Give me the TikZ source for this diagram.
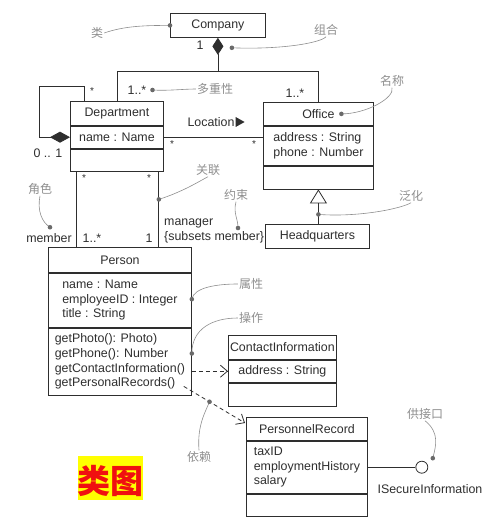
\documentclass[tikz,border=0pt]{standalone}
\usepackage{fontspec}
\setmainfont{Liberation Sans}
\newfontfamily\cjk{Noto Sans CJK SC}
\usetikzlibrary{arrows.meta,calc}
\definecolor{ink}{HTML}{2E2E2E}
\definecolor{notegray}{HTML}{8E8E8E}
\definecolor{dotgray}{HTML}{6A6A6A}
\definecolor{badgefill}{HTML}{FFFF00}
\definecolor{badgetext}{HTML}{F01010}

\begin{document}
\begin{tikzpicture}[
  x=1pt, y=-1pt,
  font=\fontsize{12.4}{14.8}\selectfont,
  cls/.style={draw=ink, line width=0.8pt, inner sep=1pt, text=ink, anchor=north west},
  head/.style={cls, align=center},
  compart/.style={cls, align=left},
  line/.style={draw=ink, line width=0.8pt},
  dep/.style={line, dash pattern=on 4pt off 3pt, -{Straight Barb[length=7pt, width=12pt]}},
  mult/.style={text=ink, inner sep=0pt},
  star/.style={mult, font=\fontsize{10}{10}\selectfont},
  note/.style={font=\cjk\fontsize{12}{12}\selectfont, text=notegray, inner sep=1pt},
  leader/.style={draw=notegray, line width=0.6pt},
  notedot/.style={fill=dotgray}
]
\useasboundingbox (0,0) rectangle (488,521);

% Classes
\node[head, minimum width=95pt, minimum height=24pt] (company) at (170,13) {Company};

\node[head, minimum width=93pt, minimum height=24pt] (dept) at (70,101) {Department};
\node[compart, minimum width=93pt, minimum height=22pt] (deptattr) at (dept.south west) {name : Name};
\node[compart, minimum width=93pt, minimum height=22pt] (deptops) at (deptattr.south west) {};

\node[head, minimum width=110pt, minimum height=23pt] (office) at (263,102) {Office};
\node[compart, minimum width=110pt, minimum height=39pt] (officeattr) at (office.south west) {address : String\\phone : Number};
\node[compart, minimum width=110pt, minimum height=23pt] (officeops) at (officeattr.south west) {};

\node[head, minimum width=104pt, minimum height=24pt] (hq) at (265,224) {Headquarters};

\node[head, minimum width=143pt, minimum height=25pt] (person) at (48,247) {Person};
\node[compart, minimum width=143pt, minimum height=54pt] (personattr) at (person.south west) {name : Name\\employeeID : Integer\\title : String};
\node[compart, minimum width=143pt, minimum height=67pt] (personops) at (personattr.south west) {getPhoto(): Photo)\\getPhone(): Number\\getContactInformation()\\getPersonalRecords()};

\node[head, minimum width=108pt, minimum height=24pt] (contact) at (228,335) {ContactInformation};
\node[compart, minimum width=108pt, minimum height=22pt] (contactattr) at (contact.south west) {address : String};
\node[compart, minimum width=108pt, minimum height=23pt] (contactops) at (contactattr.south west) {};

\node[head, minimum width=121pt, minimum height=23pt] (record) at (246,417) {PersonnelRecord};
\node[compart, minimum width=121pt, minimum height=52pt] (recordattr) at (record.south west) {taxID\\employmentHistory\\salary};
\node[compart, minimum width=121pt, minimum height=22pt] (recordops) at (recordattr.south west) {};

% Composition of the company
\coordinate (branch) at ($(company.south)+(0,34)$);
\draw[line, {Diamond[length=17pt, width=11pt]}-] (company.south) -- (branch);
\draw[line] (dept.north) |- (branch) -| (office.north);
\node[mult] (compone) at (200,45) {1};
\node[mult] (deptmany) at (137,90) {1..*};
\node[mult] (officemany) at (295,93) {1..*};

% Department owns its sub-departments
\coordinate (loopcorner) at ($(dept.north west)+(-31,-15)$);
\coordinate (looptop) at ($(dept.north west)+(14,0)$);
\draw[line, {Diamond[length=20pt, width=11pt]}-] (deptattr.west) -| (loopcorner) -| (looptop);
\node[star] (loopstar) at (92,91) {*};
\node[mult] (loopopt) at (48,153) {0 .. 1};

% Location
\draw[line] (deptattr.east) -- (deptattr.east -| office.west);
\node[mult] (location) at (211,122) {Location};
\fill[ink] ($(location.east)+(1,-5)$) -- ++(9,5) -- ++(-9,5) -- cycle;
\node[star] (locleft) at (172,144) {*};
\node[star] (locright) at (254,144) {*};

% Members and manager
\coordinate (membertop) at ($(deptops.south west)+(6,0)$);
\coordinate (managertop) at ($(deptops.south east)+(-5,0)$);
\draw[line] (membertop) -- (membertop |- person.north);
\draw[line] (managertop) -- (managertop |- person.north);
\node[star] (memberstar) at (84,178) {*};
\node[star] (managerstar) at (149,178) {*};
\node[mult] (memberrole) at (49,238) {member};
\node[mult] (membermany) at (92,238) {1..*};
\node[mult] (managerone) at (149,238) {1};
\node[mult, anchor=west, align=left] (managerrole) at (164,231) {manager\\\{subsets member\}};

% Generalization
\draw[line, -{Triangle[open, length=14pt, width=17pt, fill=white]}] (officeops.south |- hq.north) -- (officeops.south);

% Dependencies
\draw[dep] (contactattr.west -| personops.east) -- (contactattr.west);
\coordinate (recstart) at ($(personops.south east)+(-8,-9)$);
\coordinate (recend) at ($(record.north west)+(-1,6)$);
\draw[dep] (recstart) -- (recend);

% Provided interface
\node[circle, draw=ink, line width=0.8pt, fill=white, minimum size=12pt, inner sep=0pt] (iface) at ($(recordattr.east)+(54,0)$) {};
\draw[line] (recordattr.east) -- (iface.west);
\node[mult] (ifacename) at (430,489) {ISecureInformation};

% Notes
\node[note] (noteclass) at (97,33) {类};
\node[note] (notecomp) at (326,30) {组合};
\node[note] (notemult) at (215,89) {多重性};
\node[note] (notename) at (392,81) {名称};
\node[note] (notegen) at (411,196) {泛化};
\node[note] (noteassoc) at (208,170) {关联};
\node[note] (noterole) at (40,189) {角色};
\node[note] (noteconstr) at (236,195) {约束};
\node[note] (noteattr) at (251,284) {属性};
\node[note] (noteop) at (251,318) {操作};
\node[note] (notedep) at (199,457) {依赖};
\node[note] (noteiface) at (425,414) {供接口};

\coordinate (dotclass) at (company.west);
\coordinate (dotcomp) at ($(company.south)+(14,10)$);
\coordinate (dotmult) at ($(deptmany.east)+(6,0)$);
\coordinate (dotname) at ($(office.center)+(23,0)$);
\coordinate (dotgen) at ($(officeops.south)+(0,25)$);
\coordinate (dotassoc) at ($(managertop)+(0,28)$);
\coordinate (dotrole) at ($(memberrole.north)+(1,-6)$);
\coordinate (dotconstr) at ($(managerrole.west)+(74,-3)$);
\coordinate (dotattr) at ($(personattr.east)+(0,-1)$);
\coordinate (dotop) at ($(personops.east)+(0,-8)$);
\coordinate (dotdep) at ($(recstart)!0.42!(recend)$);
\coordinate (dotiface) at ($(iface.center)+(11,-9)$);

\draw[leader] (noteclass.east) .. controls +(20,-7) and +(-25,0) .. (dotclass);
\draw[leader] (dotcomp) .. controls +(50,2) and +(-5,6) .. (notecomp.south);
\draw[leader] (dotmult) .. controls +(15,1) and +(-12,0) .. (notemult.west);
\draw[leader] (dotname) .. controls +(25,0) and +(3,10) .. (notename.south);
\draw[leader] (dotgen) .. controls +(40,3) and +(-10,6) .. (notegen.south);
\draw[leader] (dotassoc) .. controls +(25,-8) and +(-8,4) .. (noteassoc.south);
\draw[leader] (noterole.south) .. controls +(-3,15) and +(-8,-5) .. (dotrole);
\draw[leader] (noteconstr.south) .. controls +(-3,12) and +(0,-10) .. (dotconstr);
\draw[leader] (dotattr) .. controls +(2,-12) and +(-20,0) .. (noteattr.west);
\draw[leader] (dotop) .. controls +(0,-25) and +(-25,0) .. (noteop.west);
\draw[leader] (notedep.north) .. controls +(-2,-25) and +(-4,10) .. (dotdep);
\draw[leader] (noteiface.south) .. controls +(15,12) and +(3,-12) .. (dotiface);
\foreach \d in {dotclass, dotcomp, dotmult, dotname, dotgen, dotassoc, dotrole, dotconstr, dotattr, dotop, dotdep, dotiface}
  \fill[notedot] (\d) circle[radius=2.3pt];

% Title badge
\node[fill=badgefill, minimum width=65pt, minimum height=44pt, inner sep=0pt] (badge) at (110.5,478) {};
\node[text=badgetext, font=\cjk\bfseries\fontsize{33}{33}\selectfont, inner sep=0pt] (badgetitle) at ($(badge.center)+(0,3)$) {类图};

\end{tikzpicture}
\end{document}
